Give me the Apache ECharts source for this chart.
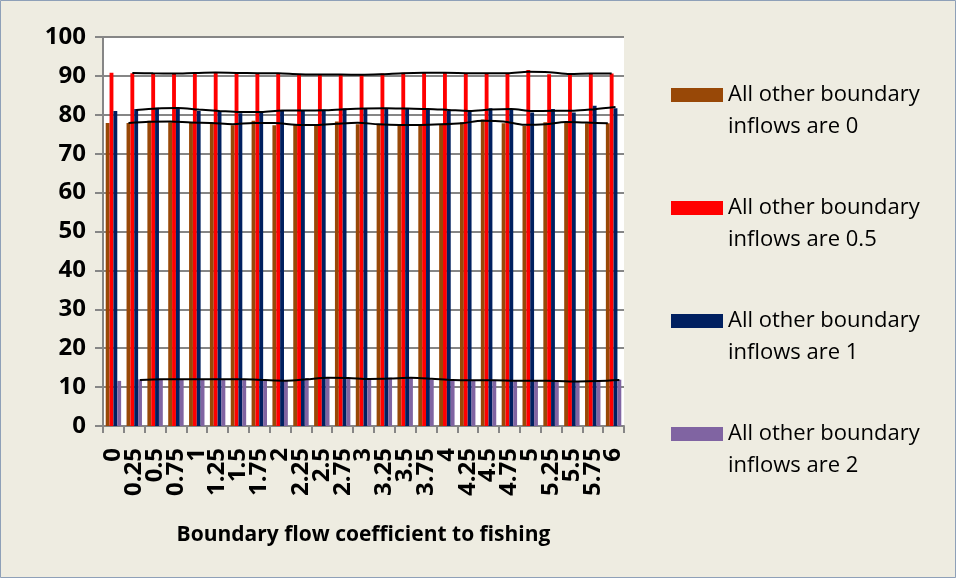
<!DOCTYPE html>
<html>
<head>
<meta charset="utf-8">
<script src="https://cdn.jsdelivr.net/npm/echarts@6/dist/echarts.min.js"></script>
<style>
  html, body { margin: 0; padding: 0; background: #EEECE1; }
  #chart { width: 956px; height: 578px; }
</style>
</head>
<body>
<div id="chart"></div>
<script>
// Boundary flow coefficient to fishing (category axis)
var categories = ['0', '0.25', '0.5', '0.75', '1', '1.25', '1.5', '1.75', '2', '2.25', '2.5', '2.75',
  '3', '3.25', '3.5', '3.75', '4', '4.25', '4.5', '4.75', '5', '5.25', '5.5', '5.75', '6'];

var seriesNames = [
  'All other boundary inflows are 0',
  'All other boundary inflows are 0.5',
  'All other boundary inflows are 1',
  'All other boundary inflows are 2'
];

var inflow0 = [77.9, 77.9, 78.5, 78.1, 77.9, 77.9, 77.3, 78.5, 77.3, 77.6, 77.1, 78.3,
  77.6, 77.5, 77.3, 77.5, 77.6, 78.1, 78.8, 77.8, 77.1, 78.1, 78.2, 77.8, 77.8];
var inflow05 = [90.8, 90.7, 90.6, 90.6, 90.9, 90.8, 90.7, 90.7, 90.6, 90.3, 90.4, 90.3,
  90.3, 90.6, 90.8, 90.8, 90.8, 90.6, 90.7, 90.6, 91.5, 90.4, 90.6, 90.6, 90.6];
var inflow1 = [81.0, 81.5, 81.8, 81.7, 81.0, 81.0, 80.4, 81.0, 81.2, 81.0, 81.3, 81.6,
  81.7, 81.7, 81.5, 81.5, 81.0, 81.0, 81.7, 81.3, 80.6, 81.5, 80.6, 82.3, 81.7];
var inflow2 = [11.6, 12.0, 12.0, 12.0, 12.0, 12.0, 12.0, 11.6, 11.7, 12.3, 12.5, 12.2,
  12.0, 12.4, 12.4, 11.9, 11.7, 11.8, 11.7, 11.6, 11.7, 11.5, 11.4, 11.7, 11.9];

var yTicks = { min: 0, max: 100, interval: 10 };

var barColors = ['#984807', '#FF0000', '#002060', '#8064A2'];
var allValues = [inflow0, inflow05, inflow1, inflow2];

// Bar layout inside each category band, shared by the bars and the trend lines
var categoryGap = 0.26;
var barFrac = (1 - categoryGap) / allValues.length;

// 2-period moving-average trend line for each series, placed over its own bars
function movingAverage(values, k) {
  var offset = -(1 - categoryGap) / 2 + barFrac * (k + 0.5);
  var pts = [];
  for (var i = 1; i < values.length; i++) {
    pts.push([i + offset, (values[i - 1] + values[i]) / 2]);
  }
  return pts;
}

var font = '"Open Sans", Lato, sans-serif';
var series = [];
allValues.forEach(function (vals, k) {
  series.push({
    name: seriesNames[k],
    type: 'bar',
    data: vals,
    barGap: '0%',
    barCategoryGap: (categoryGap * 100) + '%',
    itemStyle: { color: barColors[k] },
    xAxisIndex: 0,
    yAxisIndex: 0,
    z: 2
  });
});
allValues.forEach(function (vals, k) {
  series.push({
    name: 'trend' + k,
    type: 'line',
    data: movingAverage(vals, k),
    xAxisIndex: 1,
    yAxisIndex: 0,
    smooth: 0.3,
    symbol: 'none',
    lineStyle: { color: '#000000', width: 2 },
    silent: true,
    z: 5
  });
});

var chart = echarts.init(document.getElementById('chart'), null, { renderer: 'canvas' });
chart.setOption({
  backgroundColor: '#EEECE1',
  animation: false,
  graphic: [{
    type: 'rect',
    shape: { x: 0.5, y: 0.5, width: 955, height: 577 },
    style: { fill: 'none', stroke: '#8EA0B8', lineWidth: 1 },
    silent: true
  }],
  grid: {
    left: 103, top: 37, width: 521, height: 389,
    show: true, backgroundColor: '#FFFFFF', borderWidth: 0
  },
  legend: {
    orient: 'vertical',
    left: 666,
    top: 42,
    itemWidth: 52,
    itemHeight: 14,
    itemGap: 17,
    icon: 'rect',
    data: seriesNames,
    // a blank first line keeps the colour key level with the first text line
    formatter: function (name) { return ' \n' + name.replace(' inflows', '\ninflows'); },
    textStyle: {
      fontFamily: font, fontSize: 22, color: '#000000', lineHeight: 32
    }
  },
  xAxis: [{
    type: 'category',
    data: categories,
    name: 'Boundary flow coefficient to fishing',
    nameLocation: 'middle',
    nameGap: 99,
    nameTextStyle: { fontFamily: font, fontSize: 21, fontWeight: 'bold', color: '#000000' },
    axisLine: { lineStyle: { color: '#868686', width: 2 } },
    axisTick: { show: true, alignWithLabel: false, length: 7, lineStyle: { color: '#868686', width: 2 } },
    axisLabel: {
      interval: 0, rotate: 90, margin: 22,
      fontFamily: font, fontSize: 24, fontWeight: 'bold', color: '#000000'
    },
    splitLine: { show: false }
  }, {
    type: 'value',
    min: -0.5,
    max: categories.length - 0.5,
    show: false
  }],
  yAxis: [{
    type: 'value',
    min: yTicks.min,
    max: yTicks.max,
    interval: yTicks.interval,
    axisLine: { show: true, onZero: false, lineStyle: { color: '#868686', width: 2 } },
    axisTick: { show: true, length: 8, lineStyle: { color: '#868686', width: 2 } },
    axisLabel: { margin: 17, fontFamily: font, fontSize: 24, fontWeight: 'bold', color: '#000000' },
    splitLine: { show: true, lineStyle: { color: '#868686', width: 2 } }
  }],
  series: series
});
</script>
</body>
</html>
